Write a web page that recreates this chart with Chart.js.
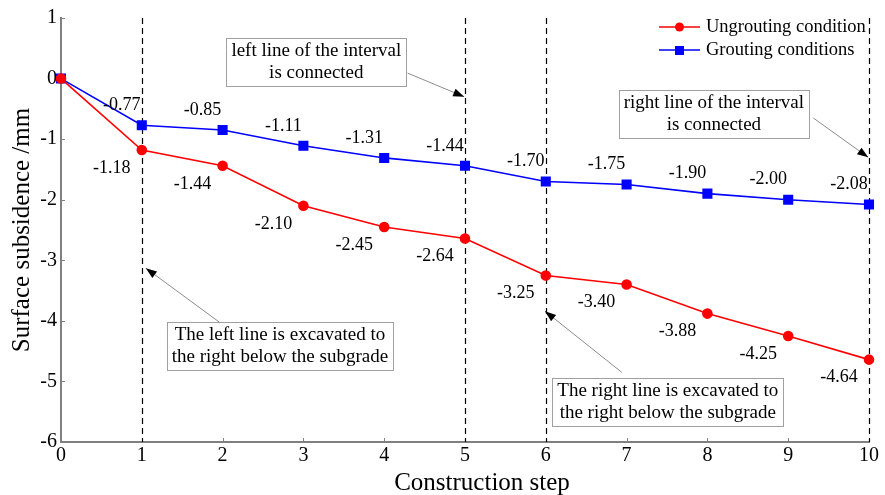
<!DOCTYPE html>
<html>
<head>
<meta charset="utf-8">
<script src="https://cdn.jsdelivr.net/npm/chart.js@4.4.0/dist/chart.umd.min.js"></script>
<style>
  html, body { margin: 0; padding: 0; background: #fff; }
  #wrap { width: 885px; height: 495px; }
</style>
</head>
<body>
<div id="wrap"><canvas id="myChart" width="885" height="495"></canvas></div>
<script>
'use strict';

// data
var steps = [0, 1, 2, 3, 4, 5, 6, 7, 8, 9, 10];
var ungrouting = [0, -1.18, -1.44, -2.10, -2.45, -2.64, -3.25, -3.40, -3.88, -4.25, -4.64];
var grouting = [0, -0.77, -0.85, -1.11, -1.31, -1.44, -1.70, -1.75, -1.90, -2.00, -2.08];
var yTicks = [1, 0, -1, -2, -3, -4, -5, -6];
var dashedSteps = [1, 5, 6, 10];
var xTitle = 'Construction step';
var yTitle = 'Surface subsidence /mm';

var FONT = '"Liberation Serif", "Times New Roman", serif';

// text boxes with arrows, in data coordinates
var notes = [
    { lines: ['left line of the interval', 'is connected'], x: 3.16, y: 0.27, from: [4.29, 0.09], to: [4.99, -0.30] },
    { lines: ['right line of the interval', 'is connected'], x: 8.08, y: -0.59, from: [9.31, -0.65], to: [9.99, -1.30] },
    { lines: ['The left line is excavated to', 'the right below the subgrade'], x: 2.71, y: -4.42, from: [2.04, -4.10], to: [1.05, -3.13] },
    { lines: ['The right line is excavated to', 'the right below the subgrade'], x: 7.51, y: -5.34, from: [6.94, -4.85], to: [5.99, -3.84] }
];

function toPoints(values) {
    var pts = [];
    for (var i = 0; i < steps.length; i++) {
        pts.push({ x: steps[i], y: values[i] });
    }
    return pts;
}

function drawArrow(ctx, x1, y1, x2, y2) {
    ctx.save();
    ctx.strokeStyle = '#8c8c8c';
    ctx.lineWidth = 1;
    ctx.beginPath();
    ctx.moveTo(x1, y1);
    ctx.lineTo(x2, y2);
    ctx.stroke();
    var ang = Math.atan2(y2 - y1, x2 - x1);
    var len = 11, half = 4;
    ctx.fillStyle = '#000';
    ctx.beginPath();
    ctx.moveTo(x2, y2);
    ctx.lineTo(x2 - len * Math.cos(ang) + half * Math.sin(ang), y2 - len * Math.sin(ang) - half * Math.cos(ang));
    ctx.lineTo(x2 - len * Math.cos(ang) - half * Math.sin(ang), y2 - len * Math.sin(ang) + half * Math.cos(ang));
    ctx.closePath();
    ctx.fill();
    ctx.restore();
}

var extras = {
    id: 'extras',
    beforeDatasetsDraw: function(chart) {
        var ctx = chart.ctx;
        var xs = chart.scales.x, ys = chart.scales.y;
        var area = chart.chartArea;

        // inward tick marks
        ctx.save();
        ctx.strokeStyle = '#808080';
        ctx.lineWidth = 1;
        for (var i = 0; i < steps.length; i++) {
            var px = Math.round(xs.getPixelForValue(steps[i])) + 0.5;
            ctx.beginPath();
            ctx.moveTo(px, area.bottom);
            ctx.lineTo(px, area.bottom - 4);
            ctx.stroke();
        }
        for (var j = 0; j < yTicks.length; j++) {
            var py = Math.round(ys.getPixelForValue(yTicks[j])) + 0.5;
            ctx.beginPath();
            ctx.moveTo(area.left, py);
            ctx.lineTo(area.left + 4, py);
            ctx.stroke();
        }
        ctx.restore();

        // dashed vertical lines
        ctx.save();
        ctx.strokeStyle = '#000';
        ctx.lineWidth = 1.2;
        ctx.setLineDash([6, 4]);
        for (var k = 0; k < dashedSteps.length; k++) {
            var dx = Math.round(xs.getPixelForValue(dashedSteps[k])) + 0.5;
            ctx.beginPath();
            ctx.moveTo(dx, area.top);
            ctx.lineTo(dx, area.bottom);
            ctx.stroke();
        }
        ctx.restore();

        // x axis title, sits a bit right of the plot centre
        ctx.save();
        ctx.font = '25px ' + FONT;
        ctx.fillStyle = '#000';
        ctx.textAlign = 'center';
        ctx.textBaseline = 'alphabetic';
        ctx.fillText(xTitle, (area.left + area.right) / 2 + 17, 490);
        ctx.restore();
    },
    afterDatasetsDraw: function(chart) {
        var ctx = chart.ctx;
        var xs = chart.scales.x, ys = chart.scales.y;
        var area = chart.chartArea;

        // value labels
        ctx.save();
        ctx.font = '18px ' + FONT;
        ctx.fillStyle = '#000';
        ctx.textAlign = 'center';
        ctx.textBaseline = 'middle';
        for (var i = 1; i < steps.length; i++) {
            var px = xs.getPixelForValue(steps[i]);
            ctx.fillText(grouting[i].toFixed(2), px - 20, ys.getPixelForValue(grouting[i]) - 20);
            ctx.fillText(ungrouting[i].toFixed(2), px - 30, ys.getPixelForValue(ungrouting[i]) + 18);
        }
        ctx.restore();

        // note boxes and arrows
        ctx.save();
        ctx.font = '19px ' + FONT;
        for (var n = 0; n < notes.length; n++) {
            var note = notes[n];
            drawArrow(ctx, xs.getPixelForValue(note.from[0]), ys.getPixelForValue(note.from[1]),
                xs.getPixelForValue(note.to[0]), ys.getPixelForValue(note.to[1]));
            var w = 0;
            for (var l = 0; l < note.lines.length; l++) {
                w = Math.max(w, ctx.measureText(note.lines[l]).width);
            }
            w += 10;
            var h = 48;
            var cx = xs.getPixelForValue(note.x), cy = ys.getPixelForValue(note.y);
            ctx.fillStyle = '#fff';
            ctx.fillRect(cx - w / 2, cy - h / 2, w, h);
            ctx.strokeStyle = '#a0a0a0';
            ctx.lineWidth = 1;
            ctx.strokeRect(Math.round(cx - w / 2) + 0.5, Math.round(cy - h / 2) + 0.5, Math.round(w), h);
            ctx.fillStyle = '#000';
            ctx.textAlign = 'center';
            ctx.textBaseline = 'middle';
            ctx.fillText(note.lines[0], cx, cy - 11);
            ctx.fillText(note.lines[1], cx, cy + 11);
        }
        ctx.restore();

        // legend
        var sets = chart.data.datasets;
        ctx.save();
        ctx.font = '18.5px ' + FONT;
        ctx.textAlign = 'left';
        ctx.textBaseline = 'middle';
        for (var s = 0; s < sets.length; s++) {
            var ly = area.top + 9 + s * 23;
            var lx = area.right - 210;
            ctx.strokeStyle = sets[s].borderColor;
            ctx.lineWidth = 1.5;
            ctx.beginPath();
            ctx.moveTo(lx, ly);
            ctx.lineTo(lx + 41, ly);
            ctx.stroke();
            ctx.fillStyle = sets[s].backgroundColor;
            if (sets[s].pointStyle === 'rect') {
                ctx.fillRect(lx + 16, ly - 4, 9, 9);
            } else {
                ctx.beginPath();
                ctx.arc(lx + 20.5, ly, 4.5, 0, Math.PI * 2);
                ctx.fill();
            }
            ctx.fillStyle = '#000';
            ctx.fillText(sets[s].label, lx + 47, ly);
        }
        ctx.restore();
    }
};

var ctx = document.getElementById('myChart').getContext('2d');

var chart = new Chart(ctx, {
    type: 'line',
    data: {
        datasets: [{
            label: 'Ungrouting condition',
            data: toPoints(ungrouting),
            borderColor: '#ff0000',
            backgroundColor: '#ff0000',
            borderWidth: 1.6,
            pointStyle: 'circle',
            pointRadius: 4.5,
            pointHoverRadius: 4.5,
            clip: false
        }, {
            label: 'Grouting conditions',
            data: toPoints(grouting),
            borderColor: '#0000ff',
            backgroundColor: '#0000ff',
            borderWidth: 1.6,
            pointStyle: 'rect',
            pointRadius: 6,
            pointHoverRadius: 6,
            clip: false
        }]
    },
    plugins: [extras],
    options: {
        responsive: false,
        animation: false,
        events: [],
        layout: { padding: { left: 0, right: 16, top: 18, bottom: 0 } },
        plugins: {
            legend: { display: false },
            tooltip: { enabled: false }
        },
        scales: {
            x: {
                type: 'linear',
                min: 0,
                max: 10,
                afterFit: function(scale) { scale.height = 53; },
                grid: { display: false, drawTicks: false },
                border: { display: true, color: '#808080', width: 2 },
                ticks: {
                    stepSize: 1,
                    padding: 2,
                    color: '#000',
                    font: { family: FONT, size: 20 }
                }
            },
            y: {
                type: 'linear',
                min: -6,
                max: 1,
                afterFit: function(scale) { scale.width = 61; },
                grid: { display: false, drawTicks: false },
                border: { display: true, color: '#808080', width: 2 },
                ticks: {
                    stepSize: 1,
                    padding: 4,
                    color: '#000',
                    font: { family: FONT, size: 20 }
                },
                title: {
                    display: true,
                    text: yTitle,
                    color: '#000',
                    padding: { top: 7, bottom: 0 },
                    font: { family: FONT, size: 25 }
                }
            }
        }
    }
});
</script>
</body>
</html>
